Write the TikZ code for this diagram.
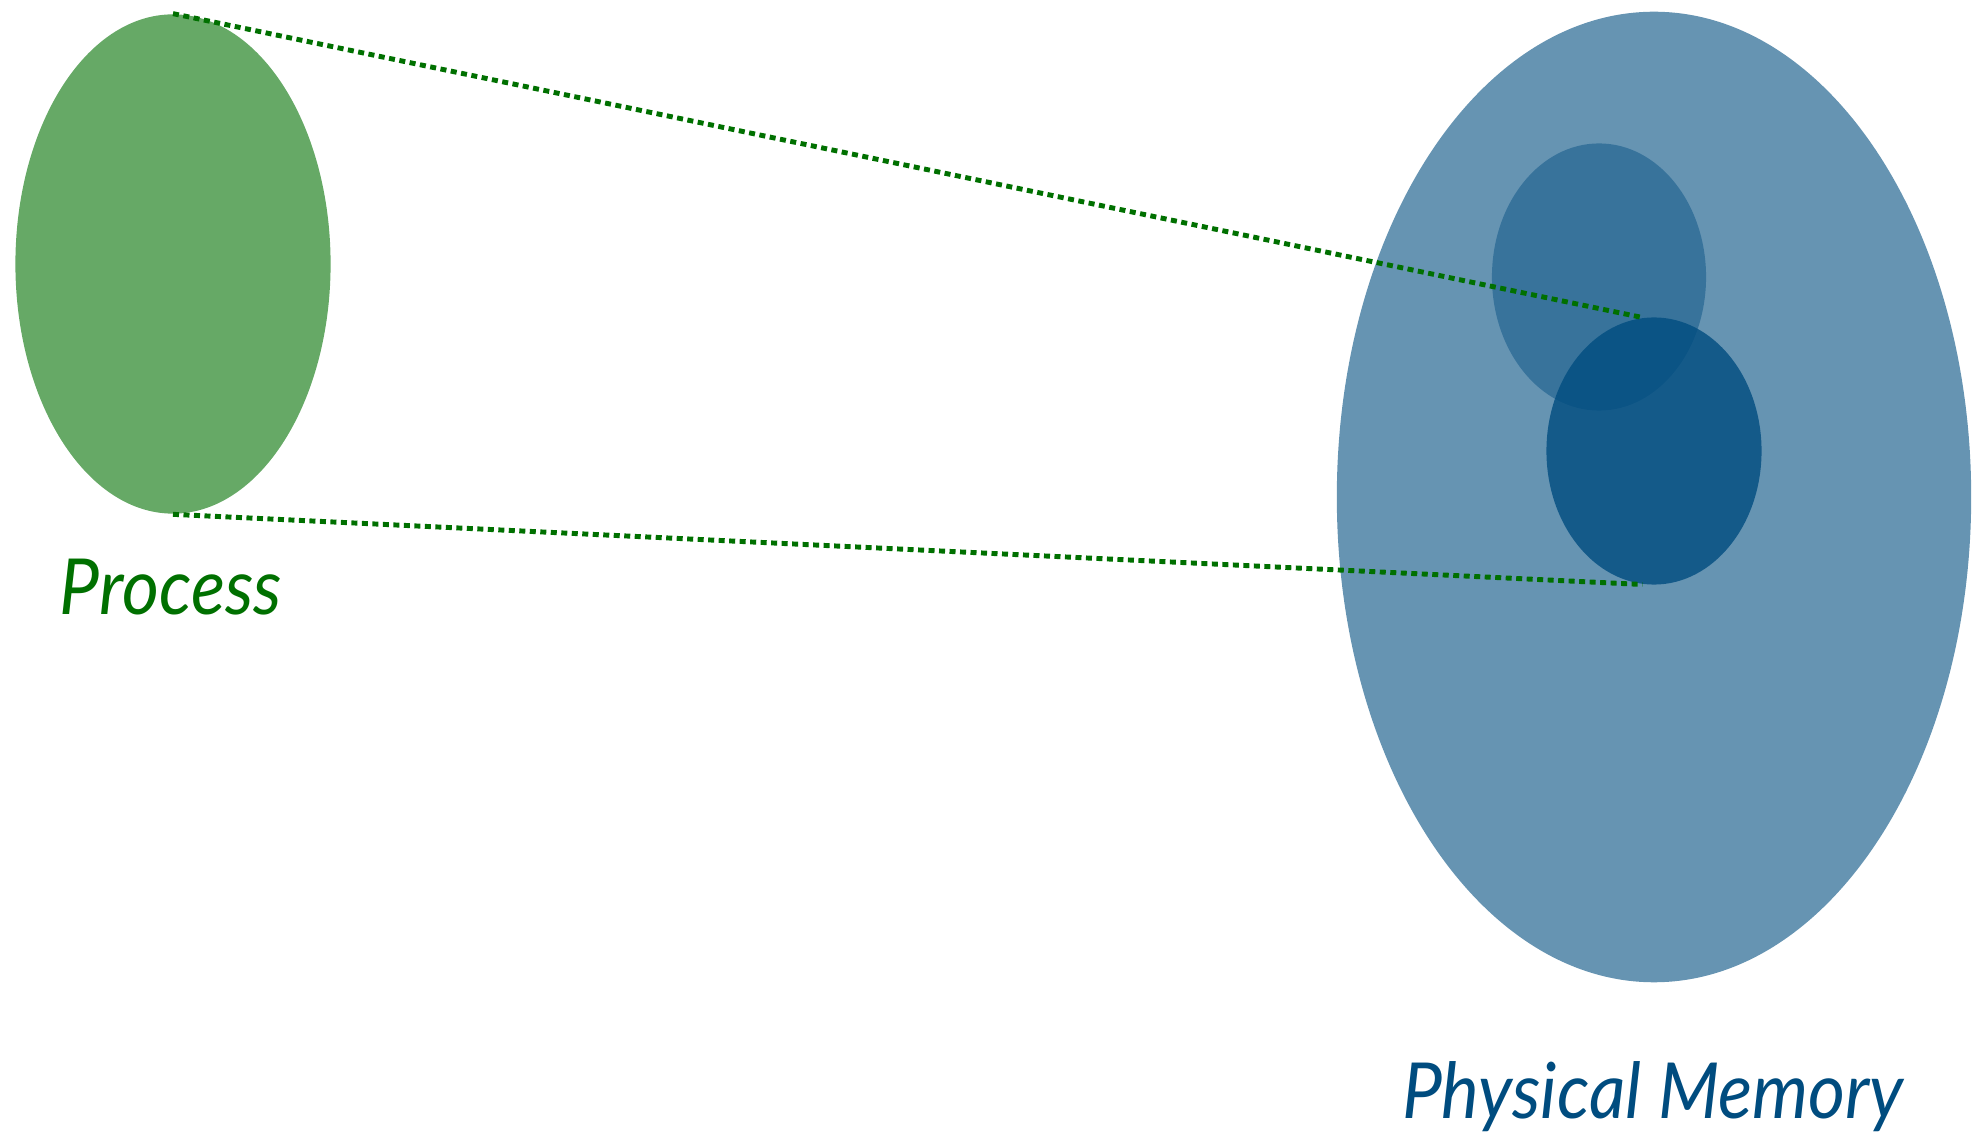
\documentclass[tikz,border=0pt]{standalone}
\usepackage{fontspec}
\setmainfont{Lato}[FakeStretch=0.92]
\usetikzlibrary{shapes.geometric}
\definecolor{procgreen}{HTML}{007000}
\definecolor{memblue}{HTML}{004C7F}

\begin{document}
\begin{tikzpicture}[x=0.01cm,y=-0.01cm,
  blob/.style={ellipse,inner sep=0pt,draw=none},
  mapline/.style={procgreen,line width=1.4pt,dash pattern=on 0.06cm off 0.045cm},
  lbl/.style={font=\fontsize{22}{26}\selectfont\itshape,anchor=base}]
  \useasboundingbox (0,0) rectangle (1975,1134);

  % Process and physical memory
  \node[blob,fill=procgreen,fill opacity=0.6,minimum width=3.15cm,minimum height=4.99cm] (proc) at (173,264) {};
  \node[blob,fill=memblue,fill opacity=0.6,minimum width=6.34cm,minimum height=9.7cm] (mem) at (1654,497) {};
  \node[blob,fill=memblue,fill opacity=0.45,minimum width=2.14cm,minimum height=2.67cm] (other) at (1599,277) {};
  \node[blob,fill=memblue,fill opacity=0.8,minimum width=2.15cm,minimum height=2.67cm] (frame) at (1654,451) {};

  % Mapping
  \draw[mapline] (proc.north) -- (frame.95);
  \draw[mapline] (proc.south) -- (frame.265);

  % Labels
  \node[lbl,text=procgreen] (proclbl) at (171,615) {Process};
  \node[lbl,text=memblue] (memlbl) at (1653,1118) {Physical Memory};
\end{tikzpicture}
\end{document}
